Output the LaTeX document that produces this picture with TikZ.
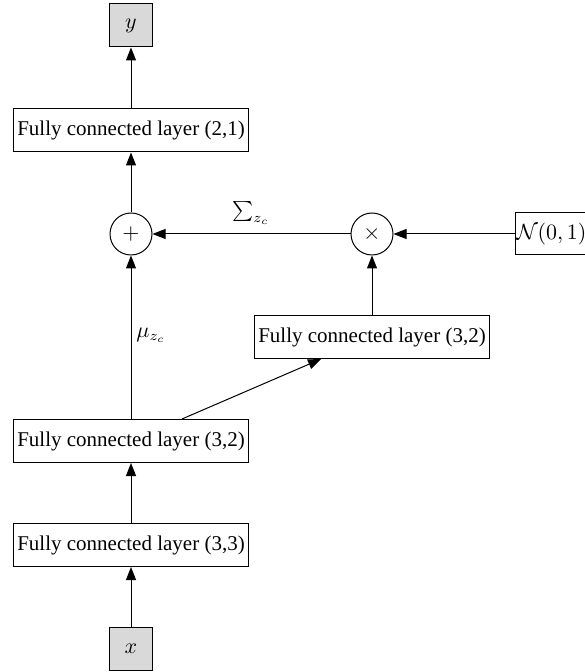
\documentclass[tikz,border=0pt]{standalone}
\usepackage{fontspec}
\setmainfont{Liberation Serif}
\usetikzlibrary{arrows.meta}
\begin{document}
\begin{tikzpicture}[x=0.5pt,y=-0.5pt,
  font=\fontsize{10.5pt}{13pt}\selectfont,
  every path/.style={line width=0.5pt},
  fc/.style={draw, fill=white, minimum width=117.5pt, minimum height=21.5pt, inner sep=1pt},
  io/.style={draw, fill=black!15, minimum width=21.5pt, minimum height=21.5pt, inner sep=0pt},
  op/.style={draw, circle, minimum size=21pt, inner sep=0pt},
  nbox/.style={draw, minimum height=21pt, inner xsep=0.5pt, inner ysep=1pt},
  arr/.style={-{Triangle[length=6.5pt,width=5pt]}}
]
\useasboundingbox (0,0) rectangle (584,672);
\node[io] (y) at (131,25.5) {$y$};
\node[fc] (fc21) at (131,130.5) {Fully connected layer (2,1)};
\node[op] (plus) at (131,234) {$+$};
\node[op] (times) at (372,234) {$\times$};
\node[nbox, anchor=west] (N) at (515,234) {$\mathcal{N}(0,1)$};
\node[fc] (fc32b) at (372,337) {Fully connected layer (3,2)};
\node[fc] (fc32a) at (131,441) {Fully connected layer (3,2)};
\node[fc] (fc33) at (131,545) {Fully connected layer (3,3)};
\node[io] (x) at (131,648.5) {$x$};
\node (sig) at (251,213) {$\sum_{z_c}$};
\node (mu) at (151,335) {$\mu_{z_c}$};
\draw[arr] (x) -- (fc33);
\draw[arr] (fc33) -- (fc32a);
\draw[arr] (fc32a) -- (plus);
\draw[arr] (fc32a) -- (fc32b);
\draw[arr] (fc32b) -- (times);
\draw[arr] (N) -- (times);
\draw[arr] (times) -- (plus);
\draw[arr] (plus) -- (fc21);
\draw[arr] (fc21) -- (y);
\end{tikzpicture}
\end{document}
